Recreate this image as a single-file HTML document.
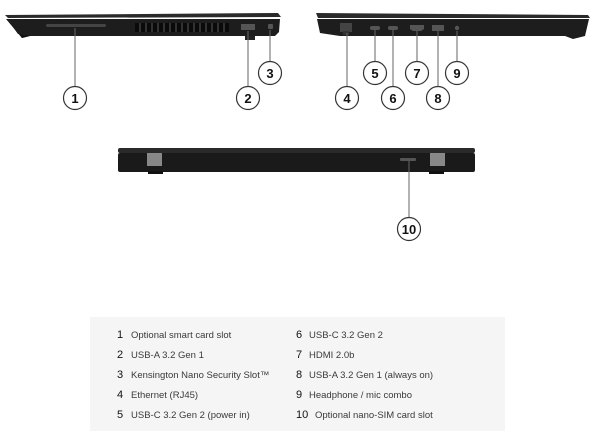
<!DOCTYPE html>
<html><head><meta charset="utf-8"><style>
body{margin:0;background:#fff;width:600px;height:431px;overflow:hidden;font-family:"Liberation Sans",sans-serif}
svg{position:absolute;left:0;top:0}
.t{font-size:9.5px;fill:#3a3a3a}
.n{font-size:11px;fill:#111}
.c{font-size:13px;font-weight:bold;fill:#111;text-anchor:middle}
</style></head><body>
<svg width="600" height="431" viewBox="0 0 600 431">
<defs>
<g id="circ"><circle r="11.5" fill="#fff" stroke="#333" stroke-width="1.2"/></g>
</defs>
<path d="M5 15 L278 13 L281 17 L8 18 Z" fill="#2a2a2a"/>
<path d="M6 19 L280 19 L279 32 L275 36 L30 36 L22 38 Z" fill="#1d1d1d"/>
<path d="M8 20 L18 34 L30 36 L22 38 Z" fill="#111"/>
<rect x="46" y="24" width="60" height="3" rx="1.5" fill="#444"/>
<rect x="135" y="23" width="94" height="9" fill="#0a0a0a"/>
<g stroke="#444" stroke-width="1.4">
<line x1="140" y1="23" x2="140" y2="32"/><line x1="146" y1="23" x2="146" y2="32"/><line x1="152" y1="23" x2="152" y2="32"/><line x1="158" y1="23" x2="158" y2="32"/><line x1="164" y1="23" x2="164" y2="32"/><line x1="170" y1="23" x2="170" y2="32"/><line x1="176" y1="23" x2="176" y2="32"/><line x1="182" y1="23" x2="182" y2="32"/><line x1="188" y1="23" x2="188" y2="32"/><line x1="194" y1="23" x2="194" y2="32"/><line x1="200" y1="23" x2="200" y2="32"/><line x1="206" y1="23" x2="206" y2="32"/><line x1="212" y1="23" x2="212" y2="32"/><line x1="218" y1="23" x2="218" y2="32"/><line x1="224" y1="23" x2="224" y2="32"/>
</g>
<rect x="241" y="24" width="14" height="6" fill="#555"/>
<rect x="268" y="24" width="5" height="5" rx="1" fill="#555"/>
<rect x="245" y="36" width="10" height="4" fill="#222"/>
<g stroke="#666" stroke-width="1">
<line x1="75" y1="28" x2="75" y2="86"/><line x1="248" y1="31" x2="248" y2="86"/><line x1="270" y1="30" x2="270" y2="61"/>
</g>
<use href="#circ" x="75" y="98"/><text class="c" x="75" y="103">1</text>
<use href="#circ" x="248" y="98"/><text class="c" x="248" y="103">2</text>
<use href="#circ" x="270" y="73"/><text class="c" x="270" y="78">3</text>
<path d="M316 13 L588 15 L590 18 L318 18 Z" fill="#2a2a2a"/>
<path d="M317 19 L589 19 L585 36 L573 39 L565 36 L340 36 L320 33 Z" fill="#1d1d1d"/>
<rect x="340" y="23" width="12" height="9" fill="#444"/>
<rect x="343" y="31" width="6" height="4" fill="#333"/>
<rect x="370" y="26" width="10" height="4" rx="2" fill="#555"/>
<rect x="388" y="26" width="10" height="4" rx="2" fill="#555"/>
<path d="M410 25 L424 25 L424 29 L421 31 L413 31 L410 29 Z" fill="#555"/>
<rect x="432" y="25" width="12" height="6" fill="#555"/>
<circle cx="457" cy="28" r="2.2" fill="#555"/>
<g stroke="#666" stroke-width="1">
<line x1="347" y1="33" x2="347" y2="86"/><line x1="375" y1="30" x2="375" y2="61"/><line x1="393" y1="30" x2="393" y2="86"/><line x1="417" y1="31" x2="417" y2="61"/><line x1="438" y1="31" x2="438" y2="86"/><line x1="457" y1="31" x2="457" y2="61"/>
</g>
<use href="#circ" x="347" y="98"/><text class="c" x="347" y="103">4</text>
<use href="#circ" x="375" y="73"/><text class="c" x="375" y="78">5</text>
<use href="#circ" x="393" y="98"/><text class="c" x="393" y="103">6</text>
<use href="#circ" x="417" y="73"/><text class="c" x="417" y="78">7</text>
<use href="#circ" x="438" y="98"/><text class="c" x="438" y="103">8</text>
<use href="#circ" x="457" y="73"/><text class="c" x="457" y="78">9</text>
<rect x="118" y="148" width="357" height="5" rx="2" fill="#2a2a2a"/>
<rect x="118" y="153" width="357" height="19" rx="2" fill="#1a1a1a"/>
<rect x="147" y="153" width="15" height="13" fill="#888"/>
<rect x="430" y="153" width="15" height="13" fill="#888"/>
<rect x="148" y="171" width="15" height="3" fill="#111"/>
<rect x="429" y="171" width="15" height="3" fill="#111"/>
<rect x="400" y="158" width="16" height="3" rx="1" fill="#555"/>
<line x1="409" y1="161" x2="409" y2="217" stroke="#666" stroke-width="1"/>
<use href="#circ" x="409" y="229"/><text class="c" x="409" y="234">10</text>
<rect x="90" y="317" width="415" height="114" fill="#f5f5f5"/>
<g class="n">
<text x="117" y="338">1</text><text x="117" y="358">2</text><text x="117" y="378">3</text><text x="117" y="398">4</text><text x="117" y="418">5</text>
<text x="296" y="338">6</text><text x="296" y="358">7</text><text x="296" y="378">8</text><text x="296" y="398">9</text><text x="296" y="418">10</text>
</g>
<g class="t">
<text x="131" y="338">Optional smart card slot</text>
<text x="131" y="358">USB-A 3.2 Gen 1</text>
<text x="131" y="378">Kensington Nano Security Slot™</text>
<text x="131" y="398">Ethernet (RJ45)</text>
<text x="131" y="418">USB-C 3.2 Gen 2 (power in)</text>
<text x="309" y="338">USB-C 3.2 Gen 2</text>
<text x="309" y="358">HDMI 2.0b</text>
<text x="309" y="378">USB-A 3.2 Gen 1 (always on)</text>
<text x="309" y="398">Headphone / mic combo</text>
<text x="315" y="418">Optional nano-SIM card slot</text>
</g>
</svg>
</body></html>
